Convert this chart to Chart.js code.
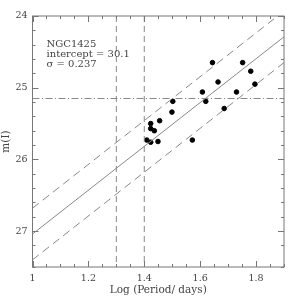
<!DOCTYPE html>
<html>
<head>
<meta charset="utf-8">
<script src="https://cdn.jsdelivr.net/npm/chart.js@4/dist/chart.umd.min.js"></script>
<style>
  html, body { margin: 0; padding: 0; background: #fff; }
  #wrap { width: 300px; height: 300px; }
</style>
</head>
<body>
<div id="wrap"><canvas id="plChart"></canvas></div>
<script>
// Cepheid points: log period vs m(I)
const logP = [1.644, 1.752, 1.781, 1.664, 1.796, 1.608, 1.730, 1.502, 1.620, 1.686,
              1.499, 1.455, 1.423, 1.423, 1.436, 1.572, 1.449, 1.423, 1.409];
const magI = [24.65, 24.65, 24.77, 24.92, 24.95, 25.06, 25.06, 25.19, 25.19, 25.29,
              25.34, 25.46, 25.50, 25.57, 25.60, 25.73, 25.75, 25.76, 25.73];

// fit line and +/- band, read at the two ends of the x range
const fitX = [1.0, 1.9];
const fitY = [27.04, 24.29];
const upperY = [26.68, 23.93];
const lowerY = [27.40, 24.65];

// reference lines
const cutX = [1.3, 1.4];
const cutY = 25.15;

const xTickLabels = [1, 1.2, 1.4, 1.6, 1.8];
const yTickLabels = [24, 25, 26, 27];

const infoLines = ['NGC1425', 'intercept = 30.1', 'σ = 0.237'];

const FONT = '"DejaVu Serif", "Liberation Serif", serif';
const LINE_GRAY = '#888';
const AXIS_GRAY = '#777';
const TEXT_GRAY = '#444';

const seg = (xs, ys) => xs.map((x, i) => ({ x, y: ys[i] }));

const datasets = [
    { type: 'line', data: seg(fitX, fitY), borderColor: LINE_GRAY, borderWidth: 1, pointRadius: 0 },
    { type: 'line', data: seg(fitX, upperY), borderColor: LINE_GRAY, borderWidth: 1, borderDash: [8, 5], pointRadius: 0 },
    { type: 'line', data: seg(fitX, lowerY), borderColor: LINE_GRAY, borderWidth: 1, borderDash: [8, 5], pointRadius: 0 },
    ...cutX.map(x => ({ type: 'line', data: [{ x, y: 24 }, { x, y: 27.5 }], borderColor: LINE_GRAY, borderWidth: 1, borderDash: [6, 4], pointRadius: 0 })),
    { type: 'line', data: [{ x: 1, y: cutY }, { x: 1.9, y: cutY }], borderColor: LINE_GRAY, borderWidth: 1, borderDash: [7, 2.5, 1, 2.5], pointRadius: 0 },
    { type: 'scatter', data: seg(logP, magI), backgroundColor: '#000', borderColor: '#000', pointRadius: 2.3 }
];

const isLabel = (v, list) => list.some(t => Math.abs(t - v) < 1e-6);

// inward tick marks on all four sides + info text
const framePlugin = {
    id: 'frame',
    afterDraw(chart) {
        const { ctx, chartArea: a, scales } = chart;
        ctx.save();
        ctx.strokeStyle = AXIS_GRAY;
        ctx.lineWidth = 1;
        ctx.strokeRect(a.left, a.top, a.right - a.left, a.bottom - a.top);
        ctx.beginPath();
        scales.x.ticks.forEach(t => {
            const px = Math.round(scales.x.getPixelForValue(t.value)) + 0.5;
            const len = isLabel(t.value, xTickLabels) ? 6 : 3;
            ctx.moveTo(px, a.bottom); ctx.lineTo(px, a.bottom - len);
            ctx.moveTo(px, a.top); ctx.lineTo(px, a.top + len);
        });
        scales.y.ticks.forEach(t => {
            const py = Math.round(scales.y.getPixelForValue(t.value)) + 0.5;
            const len = isLabel(t.value, yTickLabels) ? 6 : 3;
            ctx.moveTo(a.left, py); ctx.lineTo(a.left + len, py);
            ctx.moveTo(a.right, py); ctx.lineTo(a.right - len, py);
        });
        ctx.stroke();

        ctx.fillStyle = TEXT_GRAY;
        ctx.font = '10px ' + FONT;
        ctx.textBaseline = 'middle';
        infoLines.forEach((s, i) => ctx.fillText(s, a.left + 14, a.top + 28 + i * 10));
        ctx.restore();
    }
};

new Chart(document.getElementById('plChart'), {
    type: 'scatter',
    data: { datasets },
    plugins: [framePlugin],
    options: {
        responsive: true,
        maintainAspectRatio: false,
        animation: false,
        layout: { padding: { top: 16, right: 16, left: 0, bottom: 0 } },
        plugins: { legend: { display: false }, tooltip: { enabled: false } },
        scales: {
            x: {
                type: 'linear', min: 1, max: 1.9,
                grid: { display: false, drawTicks: false },
                border: { display: false },
                afterFit: s => { s.height = 33; },
                ticks: {
                    stepSize: 0.05, padding: 6, color: TEXT_GRAY,
                    autoSkip: false, maxRotation: 0, minRotation: 0,
                    font: { family: FONT, size: 9.5 },
                    callback: v => isLabel(v, xTickLabels) ? String(Math.round(v * 10) / 10) : ''
                },
                title: { display: true, text: 'Log (Period/ days)', color: TEXT_GRAY, font: { family: FONT, size: 10.5 }, padding: { top: 0, bottom: 3 } }
            },
            y: {
                type: 'linear', min: 24, max: 27.5, reverse: true,
                grid: { display: false, drawTicks: false },
                border: { display: false },
                afterFit: s => { s.width = 32.5; },
                ticks: {
                    stepSize: 0.2, padding: 5, color: TEXT_GRAY,
                    autoSkip: false,
                    font: { family: FONT, size: 9.5 },
                    callback: v => isLabel(v, yTickLabels) ? String(Math.round(v)) : ''
                },
                title: { display: true, text: 'm(I)', color: TEXT_GRAY, font: { family: FONT, size: 10.5 }, padding: { top: 0, bottom: 0 } }
            }
        }
    }
});
</script>
</body>
</html>
